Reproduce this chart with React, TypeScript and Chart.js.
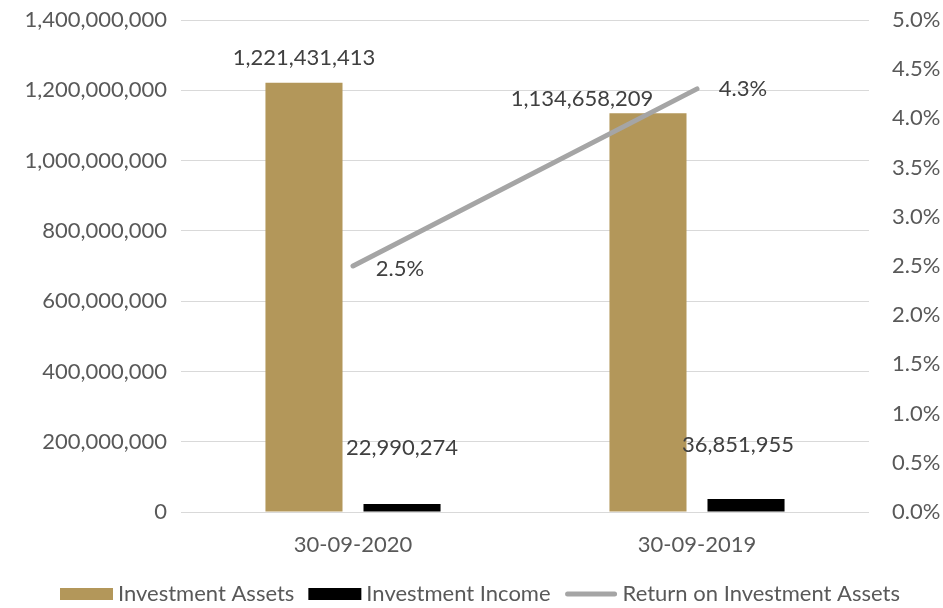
import React, { useEffect, useRef } from "react";
import { Chart, registerables } from "chart.js";

Chart.register(...registerables);

const categories = ["30-09-2020", "30-09-2019"];
const investmentAssets = [1221431413, 1134658209];
const investmentIncome = [22990274, 36851955];
const returnOnAssets = [2.5, 4.3];
const seriesNames = ["Investment Assets", "Investment Income", "Return on Investment Assets"];
const leftTicksMax = 1400000000;
const leftTickStep = 200000000;
const rightTicksMax = 5;
const rightTickStep = 0.5;

const FONT = "Lato, 'Open Sans', sans-serif";
const FONT_SIZE = 22;
const TEXT = "#595959";
const LABEL = "#404040";
const GOLD = "#B3975A";
const BLACK = "#000000";
const GREY = "#A5A5A5";

// label offsets relative to the mark (px), per dataset / per point
const labelOffsets = [
  [[0, -25], [-66, -14]],
  [[0, -56], [-8, -54]],
  [[47, 3], [46, 0]],
];

const fmtNum = (v: number) => v.toLocaleString("en-US");
const fmtPct = (v: number) => v.toFixed(1) + "%";

const dataLabelPlugin = {
  id: "dataLabels",
  afterDatasetsDraw(chart: any) {
    const ctx = chart.ctx;
    ctx.save();
    ctx.font = `${FONT_SIZE}px ${FONT}`;
    ctx.fillStyle = LABEL;
    ctx.textAlign = "center";
    ctx.textBaseline = "middle";
    chart.data.datasets.forEach((ds: any, di: number) => {
      const meta = chart.getDatasetMeta(di);
      meta.data.forEach((el: any, i: number) => {
        const v = ds.data[i];
        const txt = di === 2 ? fmtPct(v) : fmtNum(v);
        const off = labelOffsets[di][i];
        ctx.fillText(txt, el.x + off[0], el.y + off[1]);
      });
    });
    ctx.restore();
  },
};

const legendPlugin = {
  id: "customLegend",
  afterDraw(chart: any) {
    const ctx = chart.ctx;
    ctx.save();
    ctx.font = `${FONT_SIZE}px ${FONT}`;
    ctx.textBaseline = "middle";
    ctx.textAlign = "left";
    const symW = 53;
    const symGap = 5;
    const itemGap = 14;
    const y = 594;
    const widths = chart.data.datasets.map((ds: any) => ctx.measureText(ds.label).width);
    const total =
      widths.reduce((a: number, b: number) => a + b, 0) +
      widths.length * (symW + symGap) +
      (widths.length - 1) * itemGap;
    let x = 480 - total / 2;
    chart.data.datasets.forEach((ds: any, i: number) => {
      if (ds.type === "line") {
        ctx.strokeStyle = ds.borderColor;
        ctx.lineWidth = 5;
        ctx.lineCap = "round";
        ctx.beginPath();
        ctx.moveTo(x + 3, y);
        ctx.lineTo(x + symW - 3, y);
        ctx.stroke();
      } else {
        ctx.fillStyle = ds.backgroundColor;
        ctx.fillRect(x, y - 6, symW, 12);
      }
      x += symW + symGap;
      ctx.fillStyle = TEXT;
      ctx.fillText(ds.label, x, y);
      x += widths[i] + itemGap;
    });
    ctx.restore();
  },
};

export default function App() {
  const ref = useRef<HTMLCanvasElement | null>(null);
  useEffect(() => {
    document.body.style.margin = "0";
    const canvas = ref.current!;
    const chart = new Chart(canvas, {
      type: "bar",
      data: {
        labels: categories,
        datasets: [
          {
            type: "bar",
            label: seriesNames[0],
            data: investmentAssets,
            backgroundColor: GOLD,
            yAxisID: "y",
            order: 1,
            categoryPercentage: 0.57,
            barPercentage: 0.786,
          },
          {
            type: "bar",
            label: seriesNames[1],
            data: investmentIncome,
            backgroundColor: BLACK,
            yAxisID: "y",
            order: 2,
            categoryPercentage: 0.57,
            barPercentage: 0.786,
          },
          {
            type: "line",
            label: seriesNames[2],
            data: returnOnAssets,
            borderColor: GREY,
            backgroundColor: GREY,
            borderWidth: 5,
            borderCapStyle: "round",
            pointRadius: 0,
            yAxisID: "y1",
            order: 0,
          } as any,
        ],
      },
      options: {
        animation: false,
        responsive: false,
        layout: { padding: { top: 20, bottom: 36, left: 0, right: 0 } },
        plugins: {
          legend: { display: false },
          tooltip: { enabled: false },
        },
        scales: {
          x: {
            grid: { display: false },
            border: { display: false },
            ticks: { color: TEXT, font: { family: FONT, size: FONT_SIZE }, padding: 12 },
            afterFit(scale: any) {
              scale.height = 60;
            },
          },
          y: {
            position: "left",
            min: 0,
            max: leftTicksMax,
            ticks: {
              stepSize: leftTickStep,
              color: TEXT,
              font: { family: FONT, size: FONT_SIZE },
              padding: 14,
              callback: (v: any) => fmtNum(Number(v)),
            },
            grid: { color: "#D9D9D9", lineWidth: 1, drawTicks: false },
            border: { display: false },
            afterFit(scale: any) {
              scale.width = 181;
              scale.paddingTop = 0;
              scale.paddingBottom = 0;
            },
          },
          y1: {
            position: "right",
            min: 0,
            max: rightTicksMax,
            ticks: {
              stepSize: rightTickStep,
              color: TEXT,
              font: { family: FONT, size: FONT_SIZE },
              padding: 23,
              callback: (v: any) => fmtPct(Number(v)),
            },
            grid: { display: false, drawTicks: false },
            border: { display: false },
            afterFit(scale: any) {
              scale.width = 74;
              scale.paddingTop = 0;
              scale.paddingBottom = 0;
            },
          },
        },
      },
      plugins: [dataLabelPlugin, legendPlugin],
    });
    return () => chart.destroy();
  }, []);
  return <canvas ref={ref} width={943} height={608} style={{ display: "block" }} />;
}
